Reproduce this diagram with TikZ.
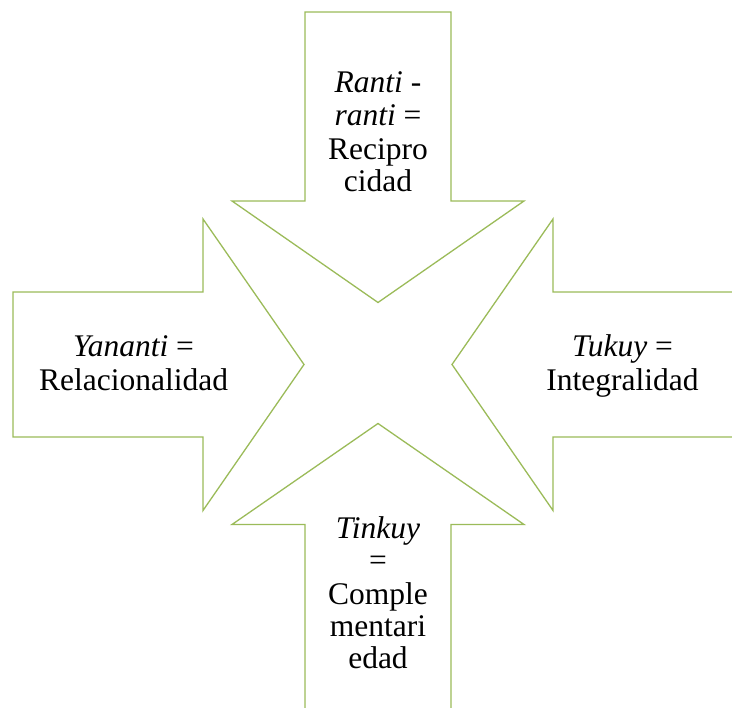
\documentclass[tikz,border=0pt]{standalone}
\usepackage{fontspec}
\setmainfont{Liberation Serif}
\definecolor{arrowgreen}{HTML}{9BBB59}
\tikzset{
  bigarrow/.style={draw=arrowgreen, line width=1.3pt, line join=miter, fill=white},
  lbl/.style={anchor=base, inner sep=0pt, font=\fontsize{31.5}{33}\selectfont}
}
\begin{document}
\begin{tikzpicture}[x=1pt,y=-1pt]
\useasboundingbox (0,0) rectangle (732,708);
% top arrow (pointing down)
\draw[bigarrow] (305,12) -- (451,12) -- (451,201) -- (524,201) -- (378,302.5) -- (232,201) -- (305,201) -- cycle;
% left arrow (pointing right)
\draw[bigarrow] (13,292) -- (203,292) -- (203,219) -- (304,364.5) -- (203,510.5) -- (203,437) -- (13,437) -- cycle;
% right arrow (pointing left)
\draw[bigarrow] (745,292) -- (553,292) -- (553,219) -- (452,364.5) -- (553,510.5) -- (553,437) -- (745,437) -- cycle;
% bottom arrow (pointing up)
\draw[bigarrow] (305,720) -- (305,524.5) -- (232,524.5) -- (378,423.5) -- (524,524.5) -- (451,524.5) -- (451,720) -- cycle;
% top text
\node[lbl] (t1) at (378,92.7) {\textit{Ranti -}};
\node[lbl] (t2) at (378,126) {\textit{ranti} =};
\node[lbl] (t3) at (378,159.3) {Recipro};
\node[lbl] (t4) at (378,192) {cidad};
% left text
\node[lbl] (l1) at (133.5,356.7) {\textit{Yananti} =};
\node[lbl] (l2) at (133.5,390.7) {Relacionalidad};
% right text
\node[lbl] (r1) at (622.5,356.7) {\textit{Tukuy} =};
\node[lbl] (r2) at (622.5,390.7) {Integralidad};
% bottom text
\node[lbl] (b1) at (378,538.3) {\textit{Tinkuy}};
\node[lbl] (b2) at (378,570.5) {=};
\node[lbl] (b3) at (378,604.3) {Comple};
\node[lbl] (b4) at (378,636.7) {mentari};
\node[lbl] (b5) at (378,669) {edad};
\end{tikzpicture}
\end{document}
